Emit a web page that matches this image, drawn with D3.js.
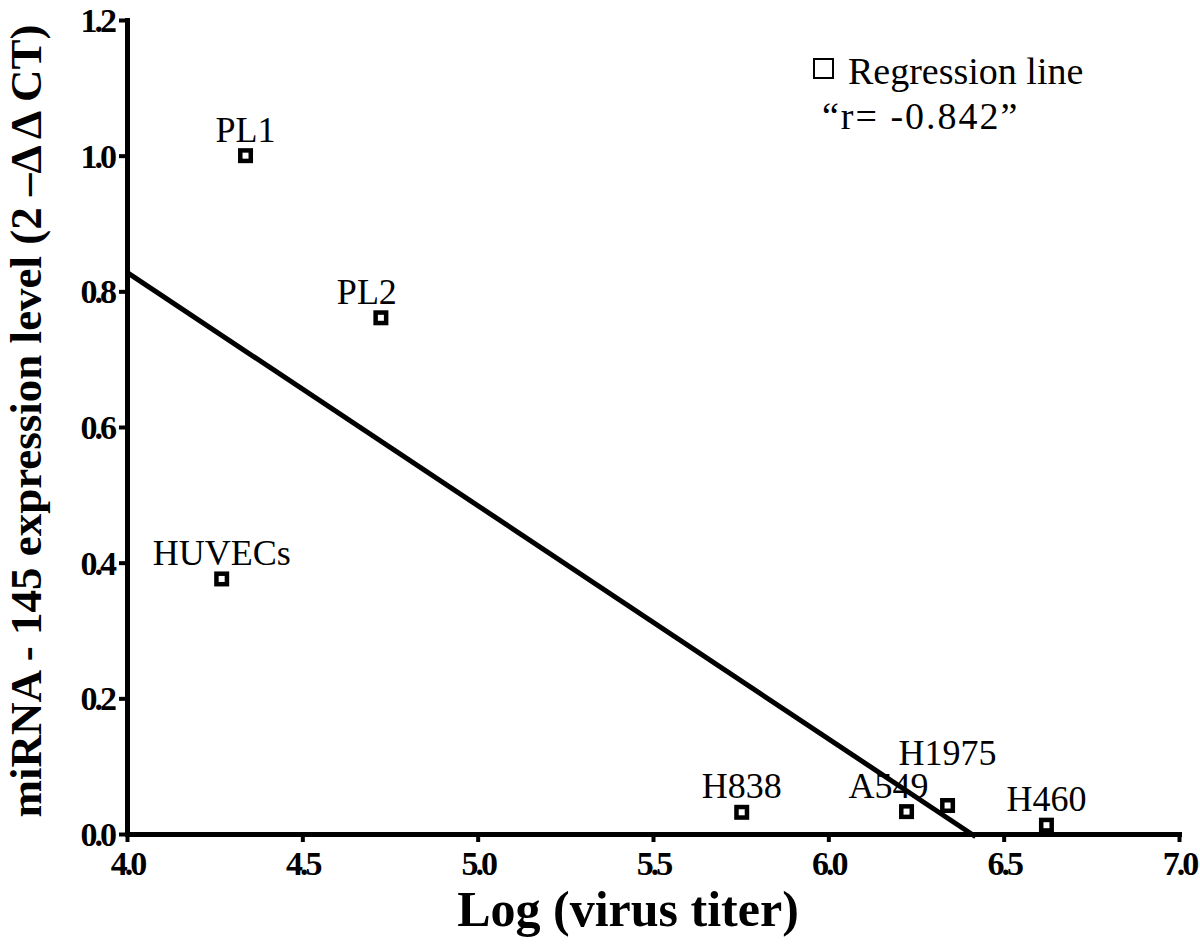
<!DOCTYPE html>
<html>
<head>
<meta charset="utf-8">
<script src="https://cdn.jsdelivr.net/npm/d3@7/dist/d3.min.js"></script>
<style>
  body { margin: 0; background: #fff; }
  svg text { font-family: "Liberation Serif", "Times New Roman", serif; fill: #000; }
</style>
</head>
<body>
<div id="chart"></div>
<script>
var cellLines = ["PL1", "PL2", "HUVECs", "H838", "A549", "H1975", "H460"];
var logTiter = [4.338, 4.724, 4.270, 5.753, 6.223, 6.340, 6.622];
var mirLevel = [1.000, 0.761, 0.376, 0.032, 0.033, 0.042, 0.013];

// fitted regression line end points
var regX = [4.0, 6.42];
var regY = [0.828, -0.004];

var xTicks = [4.0, 4.5, 5.0, 5.5, 6.0, 6.5, 7.0];
var yTicks = [0.0, 0.2, 0.4, 0.6, 0.8, 1.0, 1.2];
var rText = "\u201Cr= -0.842\u201D";

// a few labels are nudged in the original to avoid overlaps (px)
var labelNudge = { PL2: [-14, 0], A549: [-18, 0], H1975: [0, -27] };

var W = 1200, H = 944;
var margin = {top: 20, right: 21, bottom: 110, left: 127};
var width = W - margin.left - margin.right;
var height = H - margin.top - margin.bottom;

var svg = d3.select("#chart").append("svg")
    .attr("width", W)
    .attr("height", H);
var g = svg.append("g")
    .attr("transform", "translate(" + margin.left + "," + margin.top + ")");

var x = d3.scaleLinear().domain([4.0, 7.0]).range([0, width]);
var y = d3.scaleLinear().domain([0, 1.2]).range([height, 0]);

// axes
var xAxis = g.append("g")
    .attr("transform", "translate(0," + height + ")")
    .call(d3.axisBottom(x).tickValues(xTicks).tickFormat(d3.format(".1f"))
        .tickSize(8).tickSizeOuter(0).tickPadding(9));
var yAxis = g.append("g")
    .call(d3.axisLeft(y).tickValues(yTicks).tickFormat(d3.format(".1f"))
        .tickSize(8).tickSizeOuter(0).tickPadding(5));

[xAxis, yAxis].forEach(function(a) {
    a.attr("font-size", null).attr("font-family", null);
    a.select(".domain").attr("stroke", "#000").attr("stroke-width", 5)
        .attr("stroke-linecap", "square");
    a.selectAll(".tick line").attr("stroke", "#000").attr("stroke-width", 4);
    a.selectAll(".tick text")
        .attr("font-size", 34)
        .attr("font-weight", "bold")
        .attr("letter-spacing", -3)
        .attr("fill", "#000");
});
yAxis.selectAll(".tick text").attr("dy", "0.34em");

// regression line
var line = d3.line()
    .x(function(d) { return x(d[0]); })
    .y(function(d) { return y(d[1]); });
g.append("path")
    .datum(d3.zip(regX, regY))
    .attr("d", line)
    .attr("fill", "none")
    .attr("stroke", "#000")
    .attr("stroke-width", 5);

// points
var pts = d3.range(cellLines.length).map(function(i) {
    return {name: cellLines[i], x: logTiter[i], y: mirLevel[i]};
});
var s = 10.5;
g.selectAll("rect.pt")
    .data(pts)
    .enter()
    .append("rect")
    .attr("class", "pt")
    .attr("x", function(d) { return x(d.x) - s / 2; })
    .attr("y", function(d) { return y(d.y) - s / 2; })
    .attr("width", s)
    .attr("height", s)
    .attr("fill", "#fff")
    .attr("stroke", "#000")
    .attr("stroke-width", 4.5);

g.selectAll("text.lbl")
    .data(pts)
    .enter()
    .append("text")
    .attr("class", "lbl")
    .attr("x", function(d) { return x(d.x) + (labelNudge[d.name] ? labelNudge[d.name][0] : 0); })
    .attr("y", function(d) { return y(d.y) - 14 + (labelNudge[d.name] ? labelNudge[d.name][1] : 0); })
    .attr("text-anchor", "middle")
    .style("font-size", "36px")
    .text(function(d) { return d.name; });

// legend
var lg = g.append("g").attr("transform", "translate(" + (width - 365) + ",39)");
lg.append("rect")
    .attr("x", 0).attr("y", 0).attr("width", 19).attr("height", 19)
    .attr("fill", "#fff").attr("stroke", "#000").attr("stroke-width", 2);
lg.append("text")
    .attr("x", 34).attr("y", 25)
    .style("font-size", "38px")
    .text("Regression line");
lg.append("text")
    .attr("x", 8).attr("y", 70)
    .style("font-size", "38px")
    .style("letter-spacing", "2px")
    .text(rText);

// axis titles
g.append("text")
    .attr("x", width / 2 - 25)
    .attr("y", height + 92)
    .attr("text-anchor", "middle")
    .style("font-size", "50px")
    .style("font-weight", "bold")
    .text("Log (virus titer)");

g.append("text")
    .attr("transform", "translate(" + (-86) + "," + (height / 2 - 6) + ") rotate(-90)")
    .attr("text-anchor", "middle")
    .style("font-size", "45px")
    .style("font-weight", "bold")
    .text("miRNA - 145 expression level (2 \u2013\u0394 \u0394 CT)");
</script>
</body>
</html>
